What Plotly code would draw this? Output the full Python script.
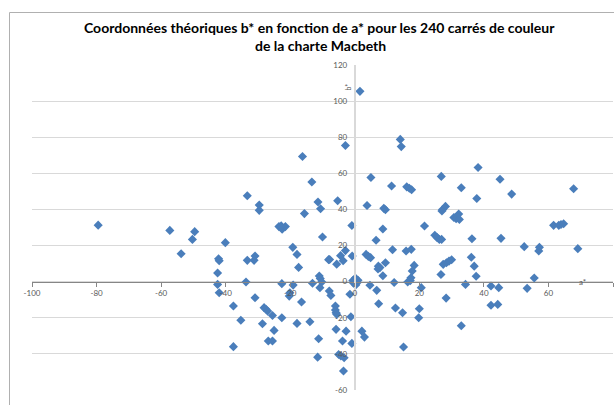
import plotly.graph_objects as go

# a* values (x) and b* values (y)
a_star = [
    -79.5, -57.3, -53.8, -50.3, -49.6, -40.1, -42.2, -42.0, -42.5, -42.5, -42.0,
    -37.6, -35.3, -37.6, -33.7, -33.3, -29.6, -29.6, -33.3, -31.2, -30.9, -30.9,
    -28.1, -27.5, -27.0, -25.5, -22.6, -28.6, -25.0, -26.8, -25.5,
    -23.5, -22.5, -21.5, -22.8, -16.2, -13.3, -11.4, -10.6, -15.6, -10.0,
    -19.2, -17.9, -17.4, -8.1, -22.6, -19.1, -20.1, -20.3, -16.5, -17.9, -13.9,
    -13.1, -11.0, -10.7, -10.2, -10.8, -11.2, -11.5, -7.9, -7.4, -6.0, -6.0,
    -5.8, -5.6, -5.8, -2.7, -3.8, -5.0, -4.3, -3.3, -3.5, -1.2, -0.9, -1.5,
    -2.9, -5.3, -0.9, -2.9, -4.4, -5.6, -7.8, -3.6, -0.8,
    0.0, 0.4, -0.4, 0.2, 0.8, -0.6, 0.3, 1.0,
    1.6, 5.0, 3.8, 9.0, 9.5, 11.4, 16.1, 16.9, 17.6, 14.1, 14.4, 26.8, 33.0,
    27.2, 28.1, 27.0, 30.7, 31.4, 32.2, 32.4, 8.7, 6.6, 21.6, 24.8, 25.5, 26.2,
    26.9, 11.7, 15.9, 17.5, 3.5, 4.2, 4.9, 7.3, 7.8, 7.2, 9.5, 8.7, 18.4, 17.8,
    17.4, 16.4, 17.2, 26.7, 27.4, 28.4, 29.2, 30.0, 4.7, 6.8, 7.4, 12.2, 12.6,
    14.8, 15.1, 20.0, 19.8, 20.6, 28.3, 34.3, 2.2, 3.0, 33.0, 38.2, 37.8, 36.3,
    36.1, 37.0, 37.6, 45.0, 48.6, 45.3, 52.5, 55.6, 57.2, 57.0, 61.6, 63.2,
    63.9, 64.7, 67.8, 69.1, 42.2, 44.6, 42.2, 44.3, 53.4,
]
b_star = [
    31.3, 28.4, 15.5, 23.4, 27.7, 21.6, 12.7, 11.6, 4.8, -1.5, -6.1,
    -13.5, -21.4, -36.0, -0.2, 47.6, 42.4, 39.5, 11.8, 11.8, 14.2, -8.9,
    -14.4, -15.3, -16.3, -18.7, -20.0, -23.3, -27.0, -32.9, -32.9,
    30.5, 29.0, 30.5, 31.0, 69.3, 55.2, 44.1, 40.4, 37.7, 24.7,
    19.0, 15.1, 7.9, 12.2, -1.1, -1.9, -6.1, -8.0, -11.3, -23.1, -22.2,
    -0.9, 3.1, 1.7, -0.2, -3.3, -31.6, -41.8, -5.2, -7.6, -13.5, -15.7,
    -17.2, -18.1, -26.4, -27.4, -32.9, -40.3, -41.2, -42.1, -49.5, -19.4, -34.2, -7.0,
    75.4, 44.8, 31.1, 17.2, 14.4, 9.7, 12.3, 11.6, 14.2,
    0.0, 1.2, -0.8, 2.0, -0.5, 0.6, -1.8, 0.8,
    105.4, 57.7, 42.2, 40.6, 39.8, 53.0, 52.5, 51.7, 50.9, 78.8, 74.8, 58.3, 52.0,
    40.0, 41.7, 39.1, 35.5, 34.9, 37.5, 34.5, 29.2, 22.9, 30.8, 25.7, 24.4, 23.4,
    23.4, 17.7, 17.0, 17.9, 15.1, 14.0, 13.3, 8.6, 7.8, 7.0, 10.5, 3.3, 9.0, 5.9,
    2.2, -0.2, 0.6, 4.0, 9.6, 10.5, 11.4, 12.1, -2.0, -4.8, -12.2, -0.5, -14.6,
    -17.2, -36.2, -15.0, -20.0, -3.3, -9.1, -1.5, -27.4, -30.7, -24.4, 63.2, 46.1, 23.8,
    13.5, 8.6, 3.0, 56.7, 48.5, 24.0, 19.4, 2.0, 19.0, 17.0, 31.2, 31.2,
    31.7, 32.1, 51.5, 18.3, -2.4, -3.3, -13.1, -12.6, -3.7,
]

x_ticks = [-100, -80, -60, -40, -20, 0, 20, 40, 60, 80]
y_ticks = [-60, -40, -20, 0, 20, 40, 60, 80, 100, 120]
x_range = [-100, 80]
y_range = [-60, 120]

title_lines = ["Coordonnées théoriques b* en fonction de a* pour les 240 carrés de couleur",
               "de la charte Macbeth"]

W, H = 614, 405
ML, MR, MT, MB = 32, 1, 65, 15
PW, PH = W - ML - MR, H - MT - MB


def px_x(p):
    return (p - ML) / PW


def px_y(p):
    return (H - MB - p) / PH


fig = go.Figure()
fig.add_trace(go.Scatter(
    x=a_star, y=b_star, mode="markers",
    marker=dict(symbol="diamond", size=7, color="#4A7EBB", line=dict(width=0)),
    showlegend=False, hoverinfo="x+y",
))

tick_font = dict(family="Lato, Open Sans, sans-serif", size=8, color="#595959")
title_font = dict(family="Lato, Open Sans, sans-serif", size=14, color="#000000",
                  weight="bold")
border = dict(color="#B0B0B0", width=1)

fig.update_layout(
    template="none",
    width=W, height=H,
    margin=dict(l=ML, r=MR, t=MT, b=MB, autoexpand=False),
    paper_bgcolor="white", plot_bgcolor="white",
    xaxis=dict(range=x_range, tickvals=x_ticks, ticktext=[str(v) for v in x_ticks],
               anchor="free", position=(0 - y_range[0]) / (y_range[1] - y_range[0]),
               showline=True, linecolor="#868686", linewidth=1,
               ticks="outside", ticklen=4, tickcolor="#868686",
               showgrid=False, zeroline=False, tickfont=tick_font, automargin=False),
    yaxis=dict(range=y_range, tickvals=y_ticks, ticktext=[str(v) for v in y_ticks],
               anchor="free", position=(0 - x_range[0]) / (x_range[1] - x_range[0]),
               showline=True, linecolor="#D9D9D9", linewidth=2,
               ticks="", ticklabelstandoff=5,
               showgrid=True, gridcolor="#D9D9D9", gridwidth=1,
               zeroline=False, tickfont=tick_font, automargin=False),
    annotations=[
        dict(text=title_lines[0], xref="paper", yref="paper", x=px_x(319), y=px_y(27),
             xanchor="center", yanchor="middle", showarrow=False, font=title_font),
        dict(text=title_lines[1], xref="paper", yref="paper", x=px_x(320), y=px_y(46),
             xanchor="center", yanchor="middle", showarrow=False, font=title_font),
        dict(text="a*", xref="paper", yref="paper",
             x=px_x(588), y=px_y(289),
             showarrow=False, font=tick_font),
        dict(text="b*", xref="paper", yref="paper", textangle=-90,
             x=px_x(348), y=px_y(82),
             showarrow=False, font=dict(family="Lato, sans-serif", size=7, color="#595959")),
    ],
    shapes=[
        dict(type="line", xref="paper", yref="paper", layer="above",
             x0=px_x(9.5), x1=px_x(620), y0=px_y(12.5), y1=px_y(12.5), line=border),
        dict(type="line", xref="paper", yref="paper", layer="above",
             x0=px_x(9.5), x1=px_x(9.5), y0=px_y(12.5), y1=px_y(420), line=border),
    ],
)

fig.write_html("out.html", config={"displayModeBar": False},
               post_script="document.body.style.margin='0';document.body.style.padding='0';")
